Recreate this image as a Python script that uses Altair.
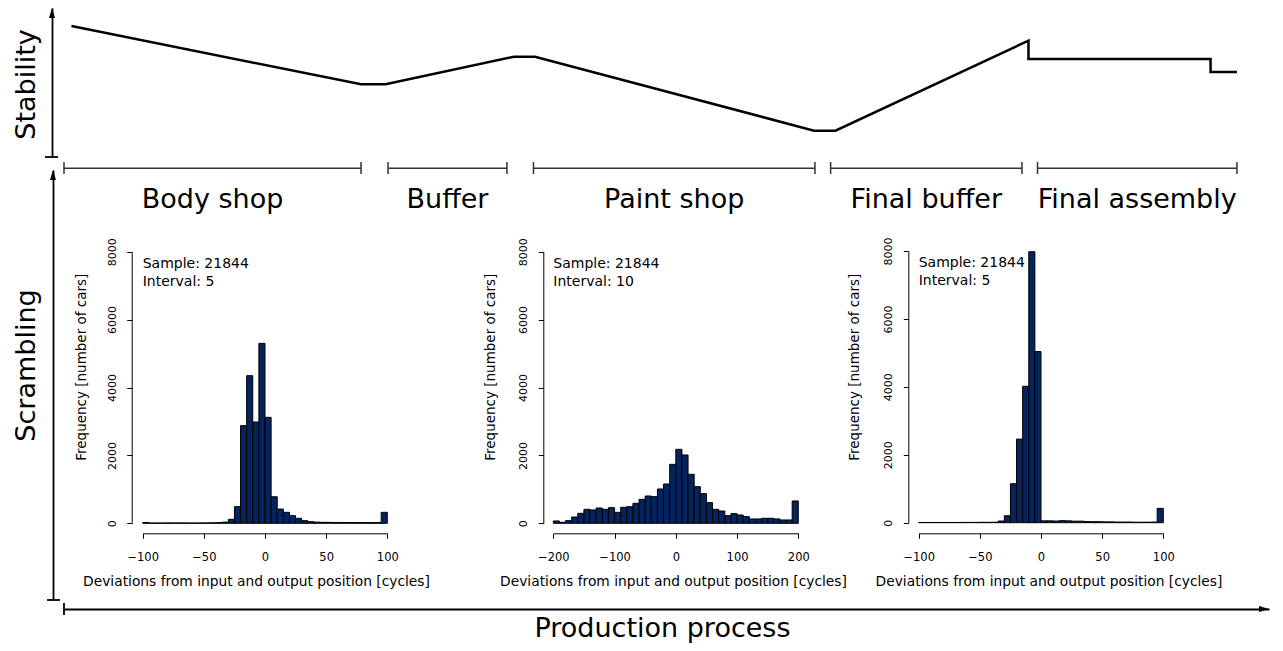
import altair as alt
import pandas as pd

W, H = 1267, 635
FONT = "DejaVu Sans"
BAR = "#05245f"

# ---------------- data ----------------
# stability profile along the production process (process 0..100, stability 0..10)
line_process = [0.62, 24.65, 26.69, 37.34, 39.09, 62.24, 64.02, 80.04, 80.04, 95.15, 95.15, 97.34]
line_stability = [8.79, 4.88, 4.88, 6.73, 6.73, 1.77, 1.77, 7.81, 6.58, 6.58, 5.70, 5.70]

stage_names = ["Body shop", "Buffer", "Paint shop", "Final buffer", "Final assembly"]
stage_start = [0.0, 26.89, 38.96, 63.62, 80.79]
stage_end = [24.65, 36.76, 62.32, 79.50, 97.34]

sample_size = 21844

# histogram counts (40 bins each)
body_counts = [25, 10, 8, 10, 12, 10, 12, 10, 8, 10, 12, 15, 20,
               35, 117, 490, 2876, 4348, 2984, 5300, 3121, 782, 420, 323, 224, 146, 77, 48,
               35, 30, 28, 25, 25, 22, 22, 20, 22, 20, 25, 323]
paint_counts = [69, 30, 78, 186, 294, 412, 393, 451, 412, 461, 324, 471, 490, 589, 707,
                805, 785, 1011, 1158, 1737, 2179, 2012, 1443, 1080, 874, 609, 412, 363,
                226, 285, 245, 196, 128, 128, 147, 147, 128, 98, 98, 658]
final_counts = [8, 8, 8, 8, 8, 8, 8, 10, 10, 10, 12, 12, 15,
                50, 206, 1147, 2461, 4019, 7980, 5038, 55,
                55, 50, 60, 55, 45, 45, 35, 30, 30, 25, 25, 20, 20, 20, 15, 15, 15, 20, 422]

UP = "M0,0L-0.3,1L0.3,1Z"
RIGHT = "M0,0L-1,-0.3L-1,0.3Z"
AX = 1.8

# ---------------- diagram (stability + stages) ----------------
line_df = pd.DataFrame({"process": line_process, "stability": line_stability,
                        "order": list(range(len(line_process)))})
stage_df = pd.DataFrame({"stage": stage_names, "start": stage_start, "end": stage_end})
one = pd.DataFrame({"k": [0]})


def proc_scale():
    return alt.Scale(domain=[0, 100], range=[56, 1261], nice=False, zero=False)


def stab_scale():
    return alt.Scale(domain=[0, 10], range=[149, 0], nice=False, zero=False)


def scr_scale():
    return alt.Scale(domain=[0, 1], range=[592, 162], nice=False, zero=False)


line = alt.Chart(line_df).mark_line(color="black", strokeWidth=2.5).encode(
    x=alt.X("process:Q", scale=proc_scale(),
            axis=alt.Axis(orient="bottom", offset=-34, title="Production process",
                          titleFontSize=27, titleX=654, titleY=6, titleBaseline="top",
                          titleAlign="center", labels=False, ticks=False, grid=False,
                          domainColor="black", domainWidth=AX)),
    y=alt.Y("stability:Q", scale=stab_scale(),
            axis=alt.Axis(orient="left", offset=-44, title="Stability", titleFontSize=27,
                          titleAngle=270, titleX=-11.7, titleY=76, titleBaseline="bottom",
                          titleAlign="center", labels=False, ticks=False, grid=False,
                          domainColor="black", domainWidth=AX)),
    order="order:Q",
)

brackets = alt.Chart(stage_df).mark_rule(color="#333333", strokeWidth=1.5).encode(
    x=alt.X("start:Q", scale=proc_scale(), axis=None), x2="end:Q", y=alt.value(160.3))
bracket_caps = alt.Chart(stage_df).transform_fold(["start", "end"], as_=["side", "pos"]).mark_rule(
    color="#333333", strokeWidth=1.5).encode(
    x=alt.X("pos:Q", scale=proc_scale(), axis=None), y=alt.value(154), y2=alt.value(166))
stage_labels = alt.Chart(stage_df).transform_calculate(mid="(datum.start + datum.end) / 2").mark_text(
    fontSize=27, align="center", baseline="alphabetic", color="black").encode(
    x=alt.X("mid:Q", scale=proc_scale(), axis=None), y=alt.value(200), text="stage:N")

stab_tip = alt.Chart(one).mark_point(shape=UP, size=400, filled=True, color="black",
                                     strokeWidth=0, opacity=1).encode(
    x=alt.value(44), y=alt.YDatum(10, type="quantitative", scale=stab_scale(), axis=None))
stab_cap = alt.Chart(one).mark_rule(color="black", strokeWidth=AX).encode(
    x=alt.value(37), x2=alt.value(50), y=alt.YDatum(0, type="quantitative", scale=stab_scale(), axis=None))
prod_tip = alt.Chart(one).mark_point(shape=RIGHT, size=400, filled=True, color="black",
                                     strokeWidth=0, opacity=1).encode(
    x=alt.XDatum(100, type="quantitative", scale=proc_scale(), axis=None), y=alt.value(601))
prod_cap = alt.Chart(one).mark_rule(color="black", strokeWidth=AX).encode(
    x=alt.XDatum(0, type="quantitative", scale=proc_scale(), axis=None), y=alt.value(595), y2=alt.value(607))

# ---------------- scrambling axis ----------------
scr_tip = alt.Chart(one).mark_point(shape=UP, size=400, filled=True, color="black",
                                    strokeWidth=0, opacity=1).encode(
    x=alt.value(45),
    y=alt.YDatum(1, type="quantitative", scale=scr_scale(),
                 axis=alt.Axis(orient="left", offset=-45, title="Scrambling", titleFontSize=27,
                               titleAngle=270, titleX=-12.3, titleY=357, titleBaseline="bottom",
                               titleAlign="center", labels=False, ticks=False, grid=False,
                               domainColor="black", domainWidth=AX)))
scr_cap = alt.Chart(one).mark_rule(color="black", strokeWidth=AX).encode(
    x=alt.value(39), x2=alt.value(52), y=alt.YDatum(0, type="quantitative", scale=scr_scale(), axis=None))


# ---------------- histograms ----------------
def histogram(counts, lo, hi, interval, ticks, x_rng, y_rng, yaxis_x, xtitle_x, ytitle_dx):
    n = len(counts)
    starts = [lo + i * interval for i in range(n)]
    df = pd.DataFrame({"start": starts, "end": [s + interval for s in starts], "count": counts})

    def xs():
        return alt.Scale(domain=[lo, hi], range=x_rng, nice=False, zero=False)

    def ys():
        return alt.Scale(domain=[0, 8000], range=y_rng, nice=False, zero=False)

    bars = alt.Chart(df).mark_rect(fill=BAR, stroke="black", strokeWidth=1, opacity=1).encode(
        x=alt.X("start:Q", scale=xs(),
                axis=alt.Axis(orient="bottom", offset=525.3 - H, values=ticks, format="d",
                              tickSize=5, labelPadding=13, labelFontSize=11.5, labelFlush=False,
                              labelOverlap=False, grid=False, domainColor="black",
                              tickColor="black", labelColor="black",
                              title="Deviations from input and output position [cycles]",
                              titleFontSize=13.8, titleX=xtitle_x, titleY=41,
                              titleBaseline="top", titleAlign="center")),
        x2="end:Q",
        y=alt.Y("count:Q", scale=ys(),
                axis=alt.Axis(orient="left", offset=-(yaxis_x - 8),
                              values=[0, 2000, 4000, 6000, 8000], format="d",
                              tickSize=5, labelPadding=9.4, labelFontSize=11, labelAngle=270,
                              labelAlign="center", labelBaseline="bottom", labelFlush=False,
                              labelOverlap=False, grid=False, domainColor="black",
                              tickColor="black", labelColor="black",
                              title="Frequency [number of cars]", titleFontSize=13.5,
                              titleAngle=270, titleX=ytitle_dx, titleY=358.7,
                              titleBaseline="bottom", titleAlign="center")),
        y2=alt.Y2Datum(0),
    )
    note_df = pd.DataFrame({"t": [f"Sample: {sample_size}\nInterval: {interval}"]})
    note = alt.Chart(note_df).mark_text(align="left", baseline="alphabetic", fontSize=14,
                                        lineBreak="\n", lineHeight=18, color="black").encode(
        x=alt.XDatum(lo, type="quantitative", scale=xs(), axis=None),
        y=alt.YDatum(7529, type="quantitative", scale=ys(), axis=None),
        text="t:N")
    return [bars, note]


hist1 = histogram(body_counts, -100, 100, 5, [-100, -50, 0, 50, 100],
                  [134.7, 379.3], [515.3, 243.7], 131.7, 248, -43.7)
hist2 = histogram(paint_counts, -200, 200, 10, [-200, -100, 0, 100, 200],
                  [545.3, 790.3], [515.3, 243.7], 543.3, 665, -45.4)
hist3 = histogram(final_counts, -100, 100, 5, [-100, -50, 0, 50, 100],
                  [910.7, 1155.3], [514.7, 243.0], 908.3, 1040.5, -47.0)

layers = [line, brackets, bracket_caps, stage_labels, stab_tip, stab_cap, prod_tip, prod_cap,
          scr_tip, scr_cap] + hist1 + hist2 + hist3

chart = alt.layer(*layers).resolve_scale(
    x="independent", y="independent"
).properties(
    width=W, height=H, padding=0, autosize=alt.AutoSizeParams(type="none")
).configure(font=FONT).configure_axis(
    titleFontWeight="normal", titleColor="black"
).configure_view(stroke=None)

chart.save("out.html", embed_options={"renderer": "svg", "actions": False})
